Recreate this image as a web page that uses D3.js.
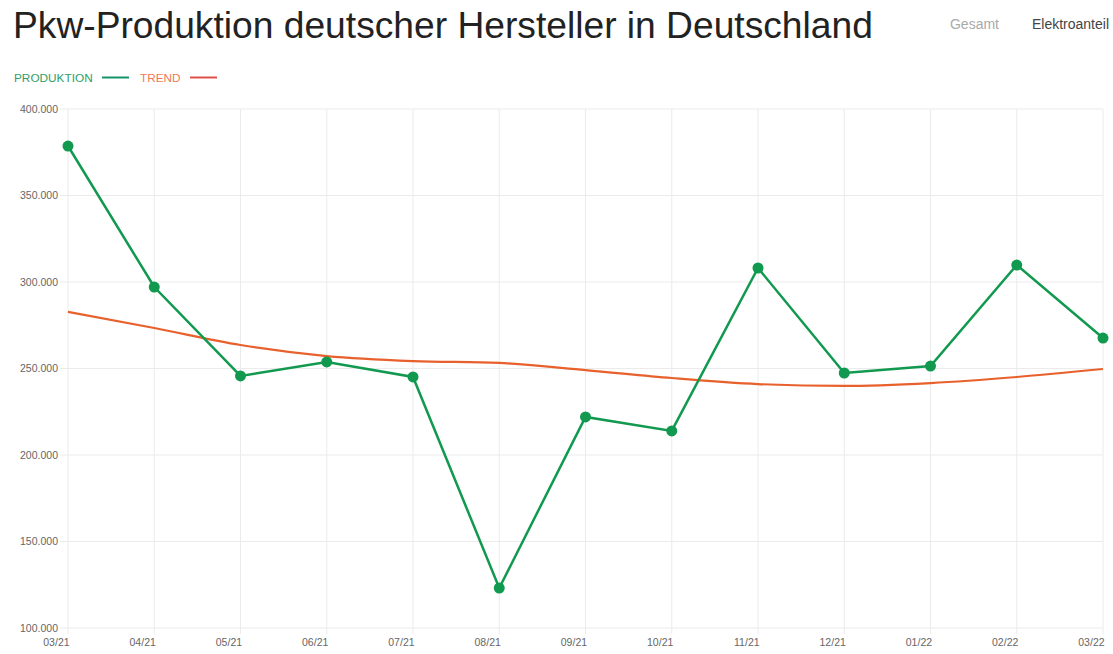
<!DOCTYPE html>
<html><head><meta charset="utf-8">
<script src="https://cdn.jsdelivr.net/npm/d3@7/dist/d3.min.js"></script>
<style>
body{margin:0;background:#fff;font-family:"Liberation Sans",Arial,sans-serif;}
svg text{font-family:"Liberation Sans",Arial,sans-serif;}
</style></head>
<body><svg id="c" width="1113" height="654"></svg>
<script>
const months = ["03/21","04/21","05/21","06/21","07/21","08/21","09/21","10/21","11/21","12/21","01/22","02/22","03/22"];
const produktion = [378600,297100,245700,253800,245100,123100,222000,213900,308100,247400,251400,309800,267600];
const trend = [282700,273400,263600,257200,254300,253200,249100,244500,241000,239900,241600,245100,249700];
const yTicks = [100000,150000,200000,250000,300000,350000,400000];

const svg = d3.select("#c");
const green = "#11994f", orange = "#e8602c";
const x = d3.scalePoint().domain(months).range([68,1103]);
const y = d3.scaleLinear().domain([100000,400000]).range([628,109]);
const fmt = v => d3.format(",")(v).replace(/,/g,".");

// title
svg.append("text").attr("x",13).attr("y",38).attr("font-size",37.2).attr("fill","#222").text("Pkw-Produktion deutscher Hersteller in Deutschland");
svg.append("text").attr("x",999).attr("y",29).attr("font-size",14).attr("fill","#aaa").attr("text-anchor","end").text("Gesamt");
svg.append("text").attr("x",1109).attr("y",29).attr("font-size",14).attr("fill","#444").attr("text-anchor","end").text("Elektroanteil");

// legend
svg.append("text").attr("x",14).attr("y",82).attr("font-size",11.8).attr("fill","#2e9e6a").text("PRODUKTION");
svg.append("line").attr("x1",102).attr("x2",129).attr("y1",77.5).attr("y2",77.5).attr("stroke","#17936a").attr("stroke-width",2);
svg.append("text").attr("x",140).attr("y",82).attr("font-size",11.8).attr("fill","#ef7a55").text("TREND");
svg.append("line").attr("x1",190).attr("x2",217).attr("y1",77.5).attr("y2",77.5).attr("stroke","#e0504a").attr("stroke-width",2);

// grid
const g = svg.append("g");
g.selectAll(".h").data(yTicks).join("line").attr("x1",60).attr("x2",1103).attr("y1",d=>y(d)).attr("y2",d=>y(d)).attr("stroke","#ebebeb");
g.selectAll(".v").data(months).join("line").attr("x1",d=>x(d)).attr("x2",d=>x(d)).attr("y1",109).attr("y2",634).attr("stroke","#ebebeb");

// axes
const yAxis = svg.append("g").attr("transform","translate(60,0)").call(d3.axisLeft(y).tickValues(yTicks).tickFormat(fmt).tickSize(0).tickPadding(2));
yAxis.select(".domain").remove();
yAxis.selectAll("text").attr("font-size",10.5).attr("fill","#666");
const xAxis = svg.append("g").attr("transform","translate(0,636)").call(d3.axisBottom(x).tickSize(0).tickPadding(3));
xAxis.select(".domain").remove();
xAxis.selectAll("text").attr("font-size",10.5).attr("fill","#666").attr("text-anchor","end").attr("dx","0.1em");

// trend
svg.append("path").datum(trend).attr("fill","none").attr("stroke",orange).attr("stroke-width",2.2)
  .attr("d", d3.line().x((d,i)=>x(months[i])).y(d=>y(d)).curve(d3.curveMonotoneX));

// produktion
svg.append("path").datum(produktion).attr("fill","none").attr("stroke",green).attr("stroke-width",2.5)
  .attr("d", d3.line().x((d,i)=>x(months[i])).y(d=>y(d)));
svg.selectAll(".pt").data(produktion).join("circle").attr("cx",(d,i)=>x(months[i])).attr("cy",d=>y(d)).attr("r",5.5).attr("fill",green);
</script></body></html>
